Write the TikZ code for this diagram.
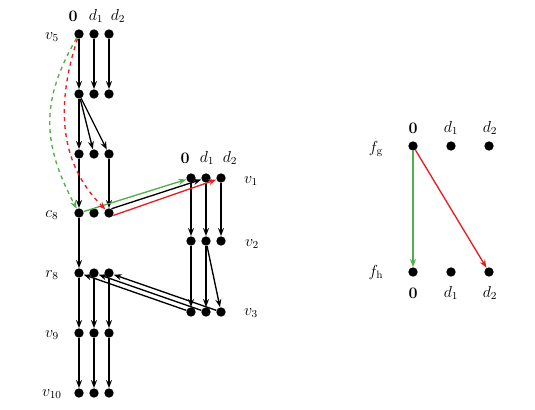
\documentclass[tikz,border=0pt]{standalone}
\usepackage{amsmath,amssymb}
\usetikzlibrary{arrows.meta,positioning}
\definecolor{cGreen}{RGB}{80,175,70}
\definecolor{cRed}{RGB}{228,30,35}
\tikzset{
  dot/.style={circle,fill=black,inner sep=0pt,minimum size=7pt},
  lbl/.style={inner sep=0pt,font=\large},
  arr/.style={-{Stealth[length=6pt,width=4.5pt]},line width=1pt},
  grnarr/.style={arr,color=cGreen},
  redarr/.style={arr,color=cRed},
  grndash/.style={grnarr,dashed},
  reddash/.style={redarr,dashed}
}

\begin{document}
\begin{tikzpicture}[x=0.75pt,y=0.75pt]
  \useasboundingbox (0,0) rectangle (535,-410);

  % left chain
  \node[lbl] (lhz) at (73,-16) {$\mathbf{0}$};
  \node[lbl] (lha) at (96,-16) {$d_1$};
  \node[lbl] (lhb) at (118,-16) {$d_2$};

  \node[dot] (v5o) at (79,-34) {};  \node[dot] (v5a) at (94,-34) {};  \node[dot] (v5b) at (109,-34) {};
  \node[dot] (s2o) at (79,-94) {};  \node[dot] (s2a) at (94,-94) {};  \node[dot] (s2b) at (109,-94) {};
  \node[dot] (s3o) at (79,-154) {}; \node[dot] (s3a) at (94,-154) {}; \node[dot] (s3b) at (109,-154) {};
  \node[dot] (c8o) at (79,-213) {}; \node[dot] (c8a) at (94,-213) {}; \node[dot] (c8b) at (109,-213) {};
  \node[dot] (r8o) at (79,-273) {}; \node[dot] (r8a) at (94,-273) {}; \node[dot] (r8b) at (109,-273) {};
  \node[dot] (v9o) at (79,-333) {}; \node[dot] (v9a) at (94,-333) {}; \node[dot] (v9b) at (109,-333) {};
  \node[dot] (v10o) at (79,-393) {}; \node[dot] (v10a) at (94,-393) {}; \node[dot] (v10b) at (109,-393) {};

  \node[lbl] (lv5) at (52,-37) {$v_5$};
  \node[lbl] (lc8) at (52,-215) {$c_8$};
  \node[lbl] (lr8) at (52,-275) {$r_8$};
  \node[lbl] (lv9) at (52,-335) {$v_9$};
  \node[lbl] (lv10) at (52,-394) {$v_{10}$};

  % right chain
  \node[lbl] (rhz) at (185,-158) {$\mathbf{0}$};
  \node[lbl] (rha) at (207,-158) {$d_1$};
  \node[lbl] (rhb) at (230,-158) {$d_2$};

  \node[dot] (v1o) at (191,-178) {}; \node[dot] (v1a) at (206,-178) {}; \node[dot] (v1b) at (221,-178) {};
  \node[dot] (v2o) at (191,-241) {}; \node[dot] (v2a) at (206,-241) {}; \node[dot] (v2b) at (221,-241) {};
  \node[dot] (v3o) at (191,-312) {}; \node[dot] (v3a) at (206,-312) {}; \node[dot] (v3b) at (221,-312) {};

  \node[lbl] (lv1) at (251,-181) {$v_1$};
  \node[lbl] (lv2) at (252,-244) {$v_2$};
  \node[lbl] (lv3) at (251,-313) {$v_3$};

  % f_g / f_h
  \node[lbl] (fhz) at (413,-128) {$\mathbf{0}$};
  \node[lbl] (fha) at (451,-128) {$d_1$};
  \node[lbl] (fhb) at (490,-128) {$d_2$};
  \node[dot] (fgo) at (413,-146) {}; \node[dot] (fga) at (451,-146) {}; \node[dot] (fgb) at (489,-146) {};
  \node[dot] (fho) at (413,-272) {}; \node[dot] (fha2) at (451,-272) {}; \node[dot] (fhb2) at (489,-272) {};
  \node[lbl] (fbz) at (413,-293) {$\mathbf{0}$};
  \node[lbl] (fba) at (451,-293) {$d_1$};
  \node[lbl] (fbb) at (490,-293) {$d_2$};
  \node[lbl] (lfg) at (376,-149) {$f_{\mathrm{g}}$};
  \node[lbl] (lfh) at (376,-272) {$f_{\mathrm{h}}$};

  \draw[arr] (v5o) -- (s2o);
  \draw[arr] (v5a) -- (s2a);
  \draw[arr] (v5b) -- (s2b);
  \draw[arr] (s2o) -- (s3o);
  \draw[arr] (s2o) -- (s3a);
  \draw[arr] (s2o) -- (s3b);
  \draw[arr] (s3o) -- (c8o);
  \draw[arr] (s3b) -- (c8b);
  \draw[arr] (c8o) -- (r8o);
  \draw[arr] (r8o) -- (v9o);
  \draw[arr] (r8a) -- (v9a);
  \draw[arr] (r8b) -- (v9b);
  \draw[arr] (v9o) -- (v10o);
  \draw[arr] (v9a) -- (v10a);
  \draw[arr] (v9b) -- (v10b);

  \draw[arr] (v1o) -- (v2o);
  \draw[arr] (v1a) -- (v2a);
  \draw[arr] (v1b) -- (v2b);
  \draw[arr] (v2o) -- (v3o);
  \draw[arr] (v2a) -- (v3a);
  \draw[arr] (v2a) -- (v3b);
  \draw[arr] (v3o) -- (r8o);
  \draw[arr] (v3a) -- (r8a);
  \draw[arr] (v3b) -- (r8b);

  \draw[grnarr] (c8o) -- (v1o);
  \draw[arr] (c8b.60) -- (v1a);
  \draw[redarr] (c8b.-30) -- (v1b);

  \draw[grndash] (v5o) to[out=240,in=118,looseness=1.1] (c8o);
  \draw[reddash] (v5o) to[out=252,in=135] (c8b);

  \draw[grnarr] (fgo) -- (fho);
  \draw[redarr] (fgo) -- (fhb2);

\end{tikzpicture}
\end{document}
